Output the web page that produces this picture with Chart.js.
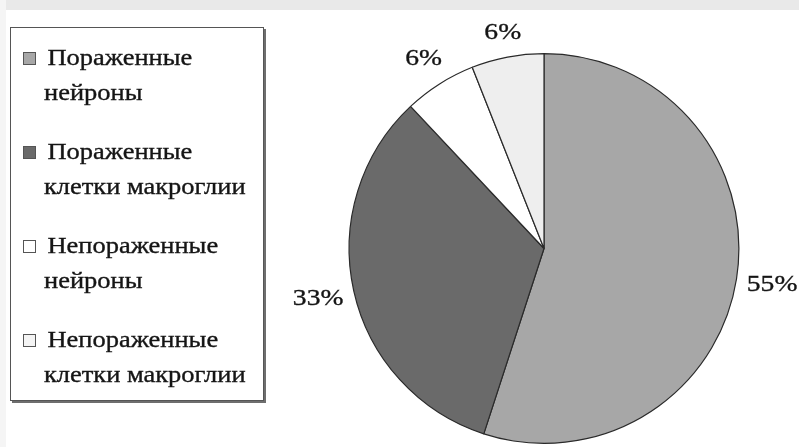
<!DOCTYPE html>
<html>
<head>
<meta charset="utf-8">
<script src="https://cdn.jsdelivr.net/npm/chart.js@4"></script>
<style>
  html, body { margin: 0; padding: 0; background: #ffffff; }
  #wrap { position: relative; width: 799px; height: 447px; overflow: hidden; background: #fff; }
  #band { position: absolute; left: 0; top: 0; width: 799px; height: 10px; background: #e9e9e9; }
  #side { position: absolute; left: 0; top: 0; width: 6px; height: 447px; background: #f5f5f5; }
  #chart { position: absolute; left: 0; top: 0; }
  #legend {
    position: absolute; left: 10px; top: 27px; width: 252px; height: 372px;
    border: 1px solid #555; box-shadow: 2px 2px 0 #6e6e6e; background: #fff;
    font-family: "Liberation Serif", "Times New Roman", serif; font-size: 23px; color: #151515;
    -webkit-text-stroke: 0.35px #151515;
  }
  .entry { position: absolute; left: 0; width: 250px; }
  .mark { position: absolute; left: 12px; width: 11px; height: 11px; border: 1px solid #555; box-sizing: content-box; }
  .txt { position: absolute; left: 33px; line-height: 35px; white-space: nowrap; transform: scaleX(1.15); transform-origin: 0 0; }
  .txt .l1 { padding-left: 3px; }
</style>
</head>
<body>
<div id="wrap">
  <div id="band"></div>
  <div id="side"></div>
  <canvas id="chart" width="799" height="447"></canvas>
  <div id="legend"></div>
</div>
<script>
const categories = ["Пораженные нейроны", "Пораженные клетки макроглии", "Непораженные нейроны", "Непораженные клетки макроглии"];
const values = [55, 33, 6, 6];
const valueLabels = ["55%", "33%", "6%", "6%"];
const sliceColors = ["#a7a7a7", "#6a6a6a", "#ffffff", "#eeeeee"];
const markerColors = ["#a7a7a7", "#6a6a6a", "#ffffff", "#f4f4f4"];

// HTML legend
const legend = document.getElementById('legend');
categories.forEach((c, i) => {
  const idx = c.indexOf(' ');
  const first = c.slice(0, idx), rest = c.slice(idx + 1);
  const e = document.createElement('div');
  e.className = 'entry';
  e.style.top = (12 + i * 94) + 'px';
  const m = document.createElement('div');
  m.className = 'mark';
  m.style.top = '12px';
  m.style.background = markerColors[i];
  const t = document.createElement('div');
  t.className = 'txt';
  t.innerHTML = '<div class="l1">' + first + '</div><div>' + rest + '</div>';
  e.appendChild(m); e.appendChild(t);
  legend.appendChild(e);
});

const labelPlugin = {
  id: 'outsideLabels',
  afterDatasetsDraw(chart) {
    const ctx = chart.ctx;
    const meta = chart.getDatasetMeta(0);
    const sx = 1.15;
    ctx.save();
    ctx.font = '24px "Liberation Serif", "Times New Roman", serif';
    ctx.fillStyle = '#151515';
    ctx.strokeStyle = '#151515';
    ctx.lineWidth = 0.35;
    ctx.textAlign = 'center';
    ctx.textBaseline = 'middle';
    meta.data.forEach((arc, i) => {
      const p = arc.getProps(['x', 'y', 'startAngle', 'endAngle', 'outerRadius'], true);
      const mid = (p.startAngle + p.endAngle) / 2;
      const hw = ctx.measureText(valueLabels[i]).width * sx / 2;
      const hh = 13;
      const c = Math.cos(mid), s = Math.sin(mid);
      const r = p.outerRadius + 9 + Math.abs(c) * hw + Math.abs(s) * hh;
      const x = p.x + c * r, y = p.y + s * r;
      ctx.save();
      ctx.translate(x, y);
      ctx.scale(sx, 1);
      ctx.fillText(valueLabels[i], 0, 0);
      ctx.strokeText(valueLabels[i], 0, 0);
      ctx.restore();
    });
    ctx.restore();
  }
};

new Chart(document.getElementById('chart'), {
  type: 'pie',
  data: {
    labels: categories,
    datasets: [{
      data: values,
      backgroundColor: sliceColors,
      borderColor: '#2a2a2a',
      borderWidth: 1.2
    }]
  },
  options: {
    responsive: false,
    animation: false,
    layout: { padding: { left: 347, right: 58, top: 53, bottom: 3 } },
    plugins: { legend: { display: false }, tooltip: { enabled: false } }
  },
  plugins: [labelPlugin]
});
</script>
</body>
</html>
